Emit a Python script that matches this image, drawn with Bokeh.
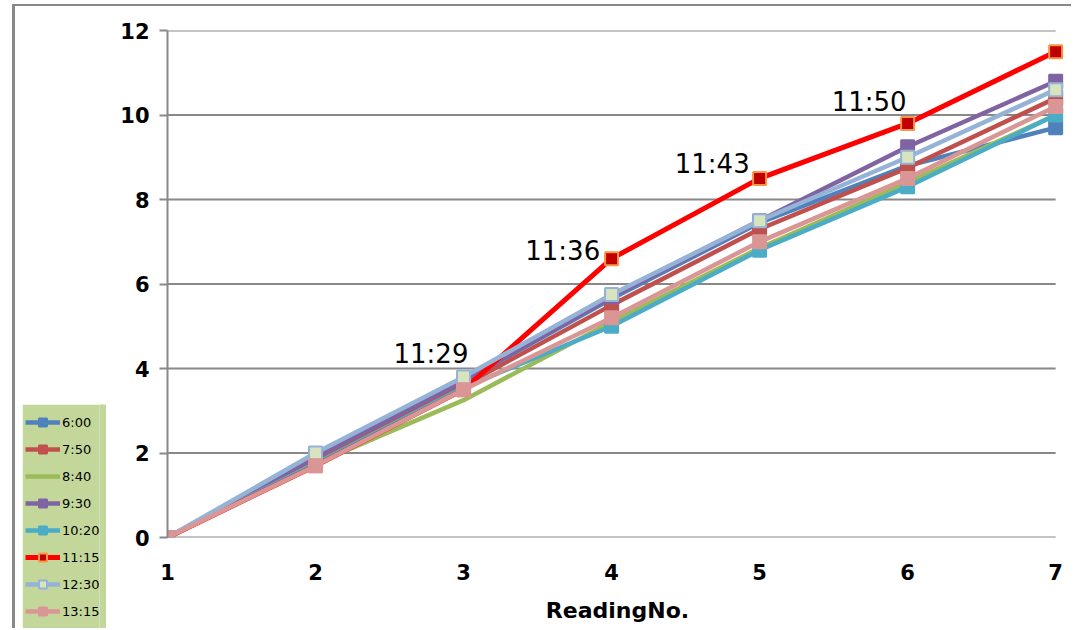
from bokeh.plotting import figure
from bokeh.layouts import column
from bokeh.models import Range1d, Legend, LegendItem, FixedTicker
from bokeh.core.properties import value
from bokeh.embed import file_html
from bokeh.resources import INLINE

# ---------------- data ----------------
readings = [1, 2, 3, 4, 5, 6, 7]
series_names = ["6:00", "7:50", "8:40", "9:30", "10:20", "11:15", "12:30", "13:15"]
s_0600 = [0, 1.9, 3.7, 5.65, 7.45, 8.8, 9.7]
s_0750 = [0, 1.8, 3.6, 5.5, 7.3, 8.75, 10.4]
s_0840 = [0, 1.75, 3.25, 5.1, 6.85, 8.4, 10.0]
s_0930 = [0, 1.9, 3.7, 5.7, 7.5, 9.25, 10.8]
s_1020 = [0, 1.75, 3.55, 5.0, 6.8, 8.3, 10.0]
s_1115 = [0, 1.7, 3.5, 6.6, 8.5, 9.8, 11.5]
s_1230 = [0, 2.0, 3.8, 5.75, 7.5, 9.0, 10.6]
s_1315 = [0, 1.7, 3.5, 5.2, 7.0, 8.5, 10.2]
series_values = [s_0600, s_0750, s_0840, s_0930, s_1020, s_1115, s_1230, s_1315]

y_ticks = [0, 2, 4, 6, 8, 10, 12]
x_ticks = [1, 2, 3, 4, 5, 6, 7]

ann_labels = ["11:29", "11:36", "11:43", "11:50"]
ann_x = [2.78, 3.67, 4.68, 5.74]
ann_y = [4.35, 6.79, 8.85, 10.3]

# ---------------- styles ----------------
line_colors = ["#4F81BD", "#C0504D", "#9BBB59", "#8064A2", "#4BACC6", "#FF0000", "#95B3D7", "#D99694"]
marker_fill = ["#4F81BD", "#C0504D", None, "#8064A2", "#4BACC6", "#C00000", "#D7E4BD", "#D99694"]
marker_line = ["#4F81BD", "#C0504D", None, "#8064A2", "#4BACC6", "#F79646", "#95B3D7", "#D99694"]
line_widths = [4.5, 4.5, 4.5, 4.5, 4.5, 5, 4.5, 4.5]

p = figure(width=1059, height=624, output_backend="svg", toolbar_location=None,
           x_range=Range1d(1, 7.08), y_range=Range1d(0, 12),
           min_border_left=152, min_border_right=7, min_border_top=24, min_border_bottom=93,
           margin=(4, 0, 0, 12))
p.styles = {"border-left": "3px solid #888888", "border-top": "2px solid #888888"}
p.outline_line_color = None
p.background_fill_color = "white"
p.border_fill_color = "white"
p.xgrid.visible = False
p.ygrid.visible = False

# gridlines only across 1..7
p.segment(x0=[x_ticks[0]] * len(y_ticks), x1=[x_ticks[-1]] * len(y_ticks), y0=y_ticks, y1=y_ticks,
          line_color="#888888", line_width=2)

# axes
p.yaxis.ticker = FixedTicker(ticks=y_ticks)
p.xaxis.ticker = FixedTicker(ticks=x_ticks)
for ax in (p.xaxis[0], p.yaxis[0]):
    ax.major_label_text_font = "DejaVu Sans"
    ax.major_label_text_font_style = "bold"
    ax.major_label_text_font_size = "21px"
    ax.major_label_text_color = "black"
    ax.minor_tick_line_color = None
p.yaxis.axis_line_color = "#888888"
p.yaxis.axis_line_width = 2
p.yaxis.major_tick_line_color = "#888888"
p.yaxis.major_tick_line_width = 2
p.yaxis.major_tick_out = 8
p.yaxis.major_tick_in = 0
p.yaxis.major_label_standoff = 10
p.xaxis.axis_line_color = None
p.xaxis.major_tick_line_color = None
p.xaxis.major_label_standoff = 20
p.xaxis.axis_label = "ReadingNo."
p.xaxis.axis_label_text_font = "DejaVu Sans"
p.xaxis.axis_label_text_font_style = "bold"
p.xaxis.axis_label_text_font_size = "22px"
p.xaxis.axis_label_text_color = "black"
p.xaxis.axis_label_standoff = 15

# legend panel as a small overlay figure (its ranges keep the proxy glyphs out of view)
lg = figure(width=84, height=224, output_backend="svg", toolbar_location=None,
            x_axis_type=None, y_axis_type=None, min_border=0,
            x_range=Range1d(100, 101), y_range=Range1d(100, 101),
            margin=(-224, 0, 0, 22))
lg.outline_line_color = None
lg.background_fill_color = "#C4D79B"
lg.border_fill_color = "#C4D79B"
lg.xgrid.visible = False
lg.ygrid.visible = False

items = []
for i, name in enumerate(series_names):
    p.line(readings, series_values[i], line_color=line_colors[i], line_width=line_widths[i])
    lr = lg.line(readings[:2], series_values[i][:2], line_color=line_colors[i], line_width=line_widths[i])
    rends = [lr]
    if marker_fill[i] is not None:
        p.scatter(readings, series_values[i], marker="square", size=13,
                  fill_color=marker_fill[i], line_color=marker_line[i], line_width=2)
        sr = lg.scatter(readings[:1], series_values[i][:1], marker="square", size=11,
                        fill_color=marker_fill[i], line_color=marker_line[i], line_width=2)
        rends.append(sr)
    items.append(LegendItem(label=name, renderers=rends))

p.text(x=ann_x, y=ann_y, text=ann_labels, text_font=value("DejaVu Sans"), text_font_size="26px",
       text_align="center", text_baseline="middle", text_color="black")

legend = Legend(items=items, location=(0, 7), orientation="vertical",
                background_fill_alpha=0, border_line_color=None,
                padding=4, spacing=7, margin=0,
                glyph_width=35, glyph_height=20, label_height=20, label_standoff=2,
                label_text_font="DejaVu Sans", label_text_font_size="13px", label_text_color="black")
lg.add_layout(legend, "center")

layout = column(p, lg, spacing=0)
open("out.html", "w").write(file_html(layout, INLINE))
